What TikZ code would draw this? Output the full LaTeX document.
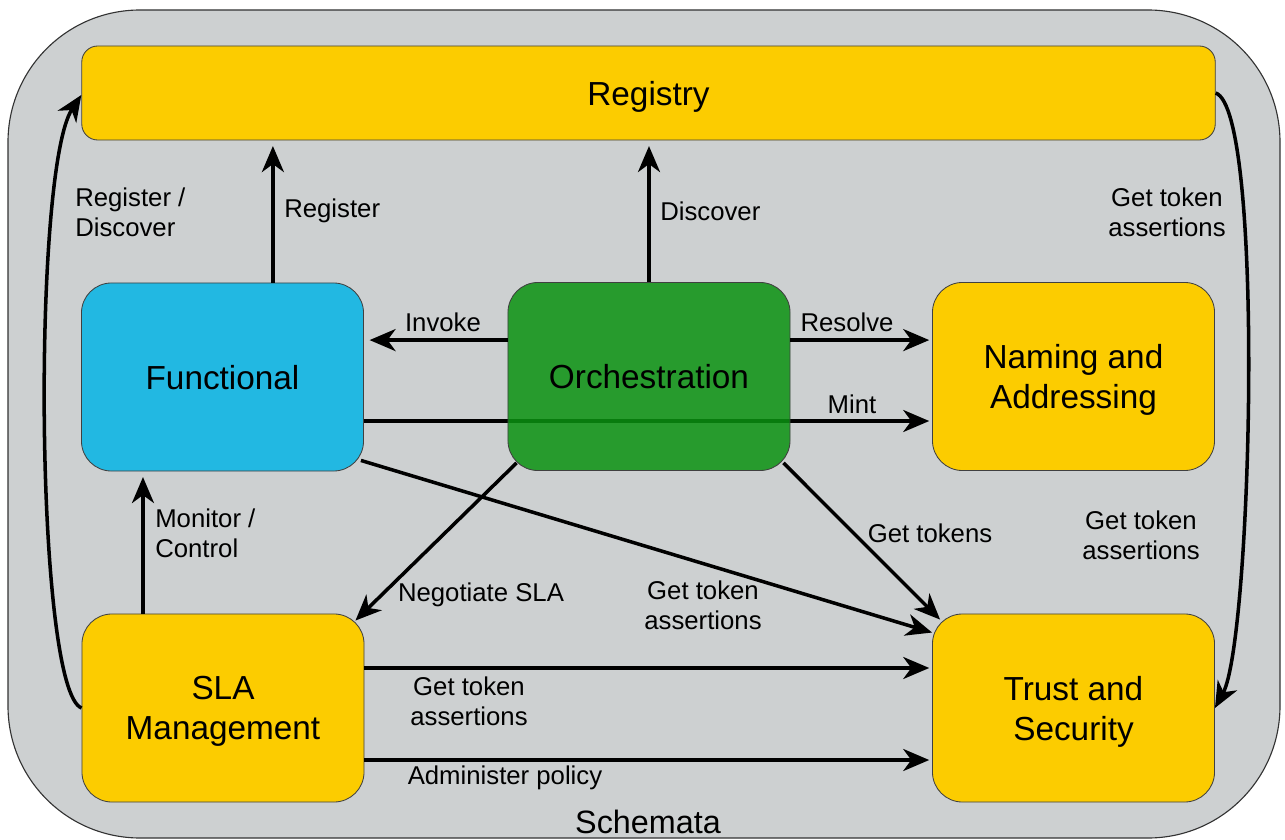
\documentclass[tikz,border=0pt]{standalone}
\usepackage{fontspec}
\setmainfont{Liberation Sans}
\usetikzlibrary{arrows.meta}
\definecolor{schemagrey}{RGB}{205,208,209}
\definecolor{boxyellow}{RGB}{252,204,0}
\definecolor{boxblue}{RGB}{34,184,226}
\definecolor{boxgreen}{RGB}{10,146,17}

\tikzset{
  svcbox/.style={draw=black!75, line width=0.6pt, rounded corners=0.75cm,
    minimum width=7.05cm, minimum height=4.7cm, align=center, text depth=0pt,
    font=\fontsize{23.7}{28.5}\selectfont},
  link/.style={line width=2.5pt, -{Stealth[length=0.65cm, width=0.55cm, inset=0.2cm]}},
  lbl/.style={font=\fontsize{18.3}{21.3}\selectfont, inner sep=0pt}
}

\begin{document}
\begin{tikzpicture}[x=0.025cm, y=-0.025cm]
  % --- canvas and schemata frame ---
  \useasboundingbox (0,0) rectangle (1285,840);
  \fill[white] (0,0) rectangle (1285,840);
  \draw[fill=schemagrey, draw=black!80, line width=0.8pt, rounded corners=3.3cm]
    (8,10) rectangle (1280,838);
  \node[font=\fontsize{23}{26}\selectfont] (schemata) at (648,822) {Schemata};

  % --- Mint runs behind the orchestration box ---
  \node[svcbox, fill=boxblue] (functional) at (222.5,377) {Functional};
  \node[svcbox, fill=boxyellow] (naming) at (1073.5,376.5) {Naming and\\Addressing};
  \draw[link, shorten >=2pt] ([yshift=-1.1cm]functional.east) -- ([yshift=-1.1cm]functional.east -| naming.west);

  % --- components ---
  \node[svcbox, fill=boxyellow, minimum width=28.33cm, minimum height=2.35cm,
    rounded corners=0.4cm] (registry) at (648.5,93) {Registry};
  \node[svcbox, fill=boxgreen, fill opacity=0.85, text opacity=1] (orchestration) at (649,376.5) {Orchestration};
  \node[svcbox, fill=boxyellow] (sla) at (223,708) {SLA\\Management};
  \node[svcbox, fill=boxyellow] (trust) at (1073.5,708) {Trust and\\Security};

  % --- connectors ---
  \draw[link, shorten >=4pt] ([xshift=1.26cm]functional.north) -- ([xshift=1.26cm]functional.north |- registry.south);
  \draw[link, shorten >=4pt] (orchestration.north) -- (orchestration.north |- registry.south);
  \draw[link, shorten >=4pt] ([yshift=0.91cm]orchestration.west) -- ([yshift=0.91cm]orchestration.west -| functional.east);
  \draw[link, shorten >=2pt] ([yshift=0.91cm]orchestration.east) -- ([yshift=0.91cm]orchestration.east -| naming.west);
  \draw[link] ([shift={(-3,-11)}]functional.south east) -- ([shift={(0,19)}]trust.north west);
  \draw[link] ([shift={(9,-8)}]orchestration.south west) -- ([shift={(-9,7)}]sla.north east);
  \draw[link] ([shift={(-7,-8)}]orchestration.south east) -- ([shift={(8,6)}]trust.north west);
  \draw[link, shorten >=4pt] ([xshift=-2cm]sla.north) -- ([xshift=-2cm]sla.north |- functional.south);
  \draw[link, shorten >=2pt] ([yshift=1cm]sla.east) -- ([yshift=1cm]sla.east -| trust.west);
  \draw[link, shorten >=2pt] ([yshift=-1.3cm]sla.east) -- ([yshift=-1.3cm]sla.east -| trust.west);
  \draw[link] (sla.west) .. controls (35,690) and (32,170) .. ([yshift=-0.05cm]registry.west);
  \draw[link] (registry.east) .. controls (1265,110) and (1252,640) .. (trust.east);

  % --- labels ---
  \node[lbl, anchor=west, align=left] (lblregdisc) at (75,212) {Register /\\Discover};
  \node[lbl, anchor=west] (lblregister) at (284,211) {Register};
  \node[lbl, anchor=west] (lbldiscover) at (660,211) {Discover};
  \node[lbl, align=center] (lbltokreg) at (1167,212) {Get token\\assertions};
  \node[lbl] (lblinvoke) at (443,322) {Invoke};
  \node[lbl] (lblresolve) at (847,322) {Resolve};
  \node[lbl] (lblmint) at (852,404) {Mint};
  \node[lbl, anchor=west, align=left] (lblmonitor) at (155,533) {Monitor /\\Control};
  \node[lbl] (lblnegotiate) at (481,595) {Negotiate SLA};
  \node[lbl, align=center] (lbltokfunc) at (703,605) {Get token\\assertions};
  \node[lbl] (lbltokens) at (930,533) {Get tokens};
  \node[lbl, align=center] (lbltoktrust) at (1141,535) {Get token\\assertions};
  \node[lbl, align=center] (lbltoksla) at (469,701) {Get token\\assertions};
  \node[lbl] (lbladmin) at (505,778) {Administer policy};
\end{tikzpicture}
\end{document}
